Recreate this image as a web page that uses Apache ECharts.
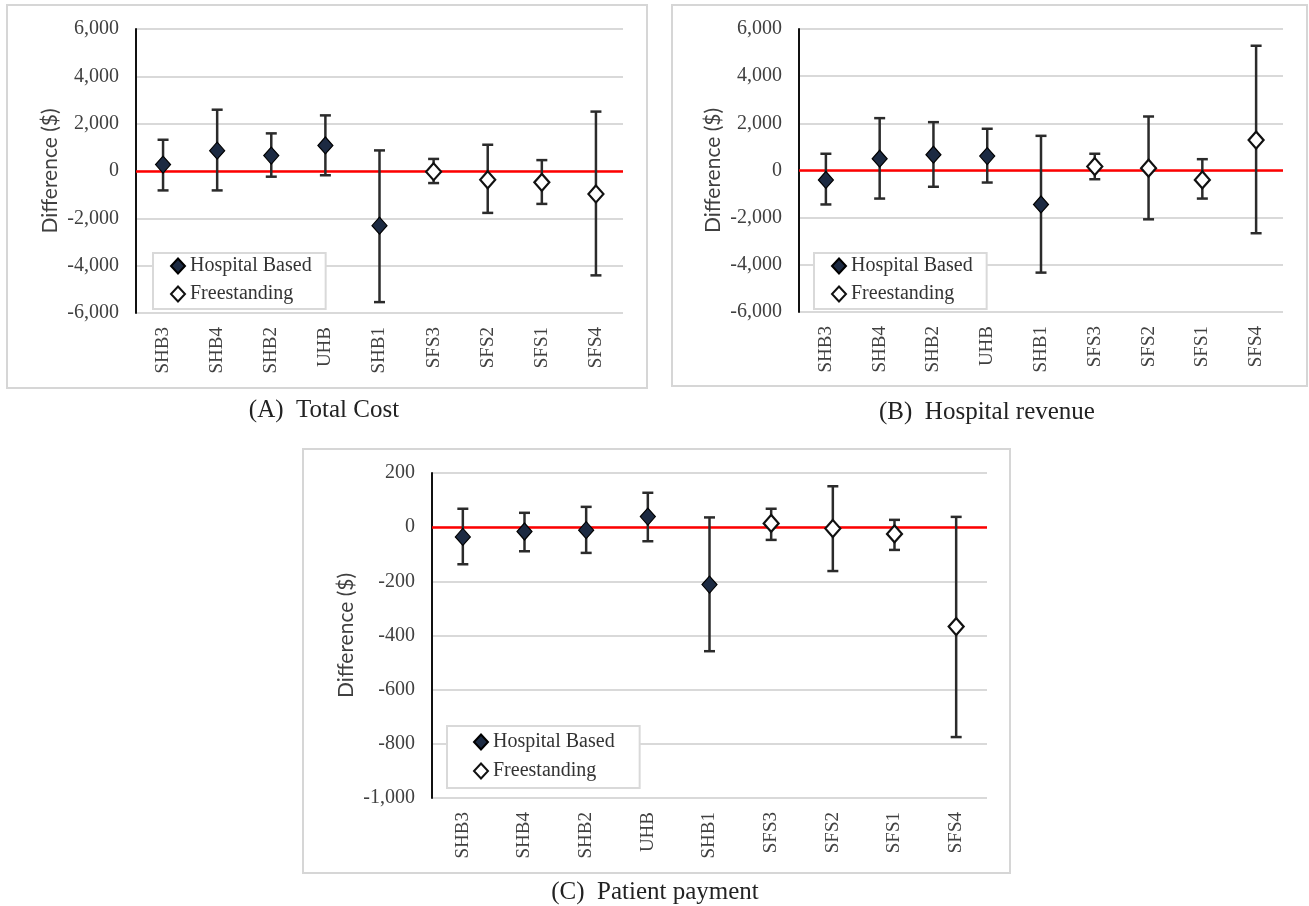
<!DOCTYPE html>
<html>
<head>
<meta charset="utf-8">
<script src="https://cdn.jsdelivr.net/npm/echarts@6/dist/echarts.min.js"></script>
<style>
html,body{margin:0;padding:0;background:#fff;}
#chart{width:1309px;height:906px;}
</style>
</head>
<body>
<div id="chart"></div>
<script>
// ---- data ----
var categories = ['SHB3','SHB4','SHB2','UHB','SHB1','SFS3','SFS2','SFS1','SFS4'];
var groupOf = ['Hospital Based','Hospital Based','Hospital Based','Hospital Based','Hospital Based','Freestanding','Freestanding','Freestanding','Freestanding'];

var costMean = [270, 860, 650, 1080, -2310, -30, -370, -480, -970];
var costLow  = [-820, -820, -240, -180, -5540, -510, -1770, -1390, -4410];
var costHigh = [1320, 2590, 1590, 2350, 870, 510, 1110, 460, 2510];

var revMean = [-400, 500, 670, 610, -1440, 170, 100, -400, 1290];
var revLow  = [-1440, -1190, -690, -510, -4330, -370, -2070, -1190, -2660];
var revHigh = [710, 2220, 2050, 1770, 1470, 710, 2290, 480, 5290];

var payMean = [-36, -16, -11, 39, -212, 14, -5, -25, -367];
var payLow  = [-137, -89, -95, -52, -458, -47, -162, -84, -775];
var payHigh = [68, 53, 75, 127, 36, 68, 151, 27, 38];

var captions = ['(A)  Total Cost', '(B)  Hospital revenue', '(C)  Patient payment'];
var yName = 'Difference ($)';

// ---- chart ----
var chart = echarts.init(document.getElementById('chart'), null, {renderer:'canvas'});

var panels = [
  {mean:costMean, low:costLow, high:costHigh, min:-6000, max:6000, interval:2000,
   grid:{left:136, top:29, width:487, height:284},
   legend:{left:153, top:253, padding:[3,14,5,17], itemGap:8},
   frame:{x:7, y:5, width:640, height:383},
   caption:{x:324, y:410}},
  {mean:revMean, low:revLow, high:revHigh, min:-6000, max:6000, interval:2000,
   grid:{left:799, top:29, width:484, height:283},
   legend:{left:814, top:253, padding:[3,14,5,17], itemGap:8},
   frame:{x:672, y:5, width:635, height:381},
   caption:{x:987, y:412}},
  {mean:payMean, low:payLow, high:payHigh, min:-1000, max:200, interval:200,
   grid:{left:432, top:473, width:555, height:325},
   legend:{left:447, top:726, padding:[6,25,7,26], itemGap:9},
   frame:{x:303, y:449, width:707, height:424},
   caption:{x:655, y:892}}
];

var serif = 'Liberation Serif';

function renderErr(params, api){
  var x = api.value(0);
  var lo = api.coord([x, api.value(1)]);
  var hi = api.coord([x, api.value(2)]);
  var w = 5.5;
  var st = {stroke:'#2b2b2b', lineWidth:2.5};
  return {type:'group', children:[
    {type:'line', shape:{x1:lo[0], y1:lo[1], x2:hi[0], y2:hi[1]}, style:st},
    {type:'line', shape:{x1:lo[0]-w, y1:lo[1], x2:lo[0]+w, y2:lo[1]}, style:st},
    {type:'line', shape:{x1:hi[0]-w, y1:hi[1], x2:hi[0]+w, y2:hi[1]}, style:st}
  ]};
}

var grids = [], xAxes = [], yAxes = [], series = [], legends = [], graphics = [];

panels.forEach(function(p, i){
  grids.push(Object.assign({containLabel:false}, p.grid));
  xAxes.push({
    type:'category', gridIndex:i, data:categories, boundaryGap:true,
    axisLine:{show:false}, axisTick:{show:false}, splitLine:{show:false},
    axisLabel:{rotate:90, margin:14, fontFamily:serif, fontSize:19, color:'#404040', interval:0}
  });
  yAxes.push({
    type:'value', gridIndex:i, min:p.min, max:p.max, interval:p.interval,
    name:yName, nameLocation:'middle', nameGap:75,
    nameTextStyle:{fontFamily:'Lato', fontSize:21, color:'#404040'},
    axisLine:{show:true, lineStyle:{color:'#111', width:2}},
    axisTick:{show:false},
    splitLine:{show:true, lineStyle:{color:'#d9d9d9', width:2}},
    axisLabel:{margin:17, fontFamily:serif, fontSize:20, color:'#404040',
      formatter:function(v){return v.toLocaleString('en-US');}}
  });

  var errData = categories.map(function(c, k){ return [k, p.low[k], p.high[k]]; });
  series.push({
    type:'custom', xAxisIndex:i, yAxisIndex:i, renderItem:renderErr, data:errData,
    encode:{x:0, y:[1,2]}, z:10, silent:true,
    markLine:{silent:true, symbol:'none', z:3, label:{show:false},
      lineStyle:{color:'#ff0000', width:2.5, type:'solid'},
      data:[{yAxis:0}]}
  });

  var hb = [], fs = [];
  categories.forEach(function(c, k){
    if (groupOf[k] === 'Hospital Based') hb.push([k, p.mean[k]]);
    else fs.push([k, p.mean[k]]);
  });
  series.push({
    name:'Hospital Based', type:'scatter', xAxisIndex:i, yAxisIndex:i, data:hb,
    symbol:'diamond', symbolSize:[15,17], z:12,
    itemStyle:{color:'#1c2a42', borderColor:'#000', borderWidth:1.2, opacity:1}
  });
  series.push({
    name:'Freestanding', type:'scatter', xAxisIndex:i, yAxisIndex:i, data:fs,
    symbol:'diamond', symbolSize:[15,17], z:12,
    itemStyle:{color:'#ffffff', borderColor:'#111', borderWidth:2.2, opacity:1}
  });

  legends.push({
    orient:'vertical', left:p.legend.left, top:p.legend.top, padding:p.legend.padding,
    itemGap:p.legend.itemGap, itemWidth:14, itemHeight:15, itemTextGap:2,
    backgroundColor:'#fff', borderColor:'#d9d9d9', borderWidth:2, borderRadius:0,
    data:['Hospital Based','Freestanding'], selectedMode:false, z:20,
    textStyle:{fontFamily:serif, fontSize:20, color:'#333'}
  });

  graphics.push({
    type:'rect', z:-1, silent:true,
    shape:{x:p.frame.x, y:p.frame.y, width:p.frame.width, height:p.frame.height},
    style:{fill:'transparent', stroke:'#d6d6d6', lineWidth:2}
  });
  graphics.push({
    type:'text', x:p.caption.x, y:p.caption.y, silent:true,
    style:{text:captions[i], fontFamily:serif, fontSize:25, fill:'#222',
      align:'center', verticalAlign:'middle'}
  });
});

chart.setOption({
  backgroundColor:'#ffffff',
  animation:false,
  grid:grids, xAxis:xAxes, yAxis:yAxes, series:series, legend:legends,
  graphic:graphics
});
</script>
</body>
</html>
